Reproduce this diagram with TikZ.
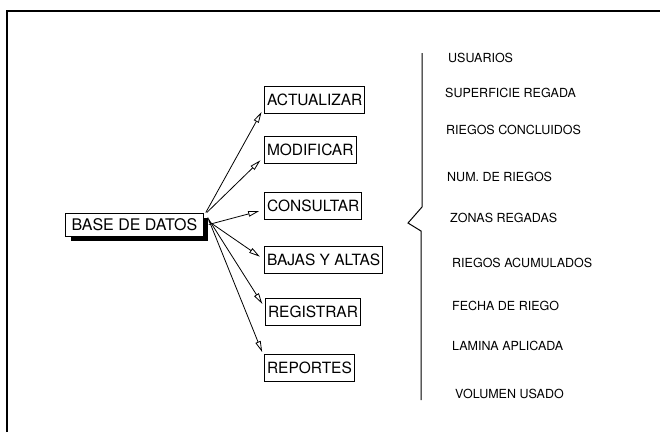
\documentclass[tikz,border=0pt]{standalone}
\usepackage{fontspec}
\setmainfont{TeX Gyre Heros}
\usetikzlibrary{calc,positioning}
\usetikzlibrary{arrows.meta,shadows}
\tikzset{
  % node styles (menu boxes, the data base box, field names)
  menu/.style={draw,line width=1pt,anchor=west,font=\fontsize{15.5}{15.5}\selectfont,
    text height=11pt,text depth=0pt,inner xsep=2.5pt,inner ysep=8pt},
  datos/.style={draw,line width=1pt,anchor=west,fill=white,font=\fontsize{16}{16}\selectfont,
    text height=11.5pt,text depth=0pt,inner xsep=6pt,inner ysep=5.75pt,
    drop shadow={shadow xshift=5pt,shadow yshift=-5pt,fill=black,opacity=1}},
  campo/.style={anchor=west,inner sep=0pt,font=\fontsize{12.5}{12.5}\selectfont},
  % connector styles
  flecha/.style={line width=0.8pt,-{Triangle[open,length=11pt,width=5.5pt]},shorten >=5pt},
  marco/.style={line width=1.3pt},
}
\begin{document}
\begin{tikzpicture}[x=1pt,y=-1pt]
  \useasboundingbox (0,0) rectangle (660,432);
  \draw[marco] (7,432) -- (7,11) -- (660,11);
  % left side: data base and its options
  \node[datos] (base) at (65,224.5) {BASE DE DATOS};
  \node[menu] (act) at (264,99.5)  {ACTUALIZAR};
  \node[menu] (mod) at (264,149.5) {MODIFICAR};
  \node[menu] (con) at (264,205.5) {CONSULTAR};
  \node[menu] (baj) at (264,259.5) {BAJAS Y ALTAS};
  \node[menu] (reg) at (265,311.5) {REGISTRAR};
  \node[menu] (rep) at (264,368)   {REPORTES};
  \draw[flecha] ([xshift=2pt]base.north east) -- (act.189);
  \draw[flecha] ([xshift=3pt]base.north east) -- (mod.189);
  \draw[flecha] ([xshift=5pt]base.east) -- (con.185);
  \draw[flecha] ([xshift=5pt,yshift=3pt]base.east) -- (baj.180);
  \draw[flecha] ([xshift=5pt,yshift=5pt]base.east) -- (reg.176);
  \draw[flecha] ([xshift=4pt,yshift=7pt]base.east) -- (rep.166);
  % brace
  \draw[line width=1pt] (422,53) -- (422,207) -- (408,223) -- (421,231) -- (421,400);
  % right side: fields
  \foreach \nom/\xx/\yy/\txt in {usu/448/58/USUARIOS, sup/445/93/SUPERFICIE REGADA,
      con/446/130/RIEGOS CONCLUIDOS, num/447/177/NUM. DE RIEGOS,
      zon/450/218/ZONAS REGADAS, acu/452/263/RIEGOS ACUMULADOS,
      fec/452/306/FECHA DE RIEGO, lam/452/346/LAMINA APLICADA,
      vol/455/394/VOLUMEN USADO}
    \node[campo] (f\nom) at (\xx,\yy) {\txt};
\end{tikzpicture}
\end{document}
